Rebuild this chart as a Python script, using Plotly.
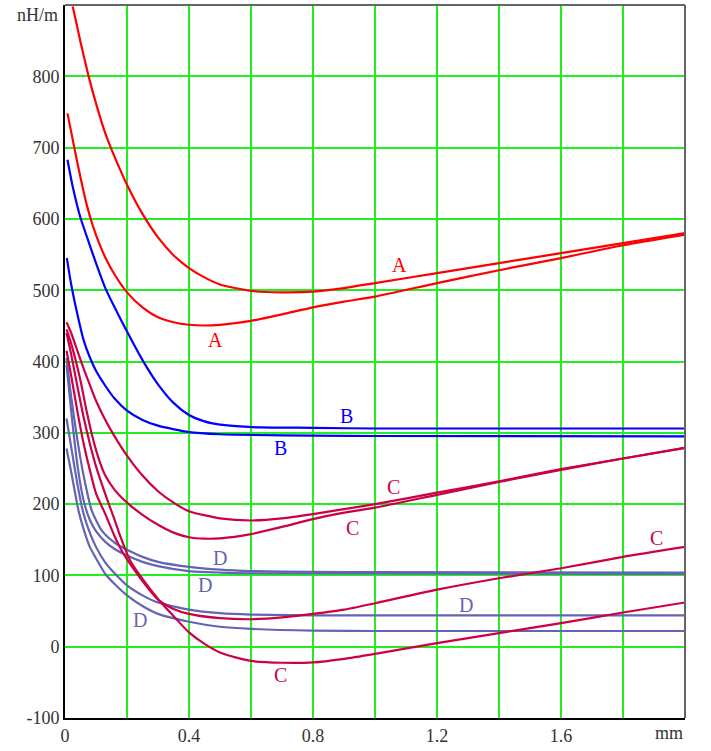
import plotly.graph_objects as go

# ---- data ----
A1_x = [0.025, 0.05, 0.075, 0.1, 0.13, 0.16, 0.2, 0.25, 0.3, 0.35, 0.4, 0.45, 0.5, 0.6, 0.7, 0.8, 0.9, 1.0, 1.2, 1.4, 1.6, 1.8, 2.0]
A1_y = [898, 848, 802, 762, 720, 687, 648, 607, 574, 549, 531, 518, 508, 499, 497, 498, 503, 510, 524, 538, 552, 566, 580]

A2_x = [0.008, 0.03, 0.05, 0.07, 0.09, 0.11, 0.13, 0.16, 0.2, 0.25, 0.3, 0.35, 0.4, 0.45, 0.5, 0.6, 0.7, 0.8, 0.9, 1.0, 1.2, 1.4, 1.6, 1.8, 2.0]
A2_y = [748, 700, 658, 620, 590, 566, 546, 522, 497, 476, 462, 455, 451.5, 450.5, 451.5, 457, 466, 476, 484, 491, 510, 528, 545, 563, 578]

B1_x = [0.008, 0.025, 0.049, 0.08, 0.1, 0.13, 0.16, 0.2, 0.25, 0.3, 0.35, 0.4, 0.45, 0.5, 0.565, 0.63, 0.8, 1.0, 2.0]
B1_y = [683, 645, 603, 563, 538, 503, 476, 442, 402, 368, 342, 325, 316, 311.5, 309, 307.5, 307, 306, 306]

B2_x = [0.006, 0.02, 0.038, 0.06, 0.08, 0.1, 0.13, 0.16, 0.2, 0.25, 0.3, 0.4, 0.5, 0.6, 0.8, 1.0, 2.0]
B2_y = [545, 508, 470, 430, 406, 387, 366, 348, 331, 318, 310, 301, 298, 297, 296, 295.5, 295]

C1_x = [0.005, 0.02, 0.04, 0.06, 0.082, 0.1, 0.13, 0.16, 0.2, 0.25, 0.3, 0.35, 0.4, 0.5, 0.6, 0.7, 0.8, 0.9, 1.0, 1.2, 1.4, 1.6, 1.8, 2.0]
C1_y = [455, 440, 415, 390, 365, 345, 318, 295, 268, 240, 218, 202, 190, 180, 177, 180, 186, 193, 200, 216, 232, 249, 264, 279]

C2_x = [0.005, 0.02, 0.049, 0.07, 0.09, 0.11, 0.13, 0.16, 0.2, 0.25, 0.3, 0.35, 0.4, 0.45, 0.5, 0.6, 0.7, 0.8, 0.9, 1.0, 1.2, 1.4, 1.6, 1.8, 2.0]
C2_y = [445, 425, 375, 330, 292, 262, 240, 220, 202, 185, 171, 160, 153.5, 151.5, 152, 158, 168, 179, 188, 195, 213, 231, 248, 264, 279]

C3_x = [0.005, 0.02, 0.04, 0.06, 0.08, 0.1, 0.13, 0.16, 0.18, 0.21, 0.25, 0.3, 0.35, 0.4, 0.5, 0.6, 0.7, 0.8, 0.9, 1.0, 1.2, 1.4, 1.6, 1.8, 2.0]
C3_y = [415, 380, 330, 285, 248, 215, 186, 155, 137, 116, 92, 66, 53, 46, 40, 38.5, 41, 46, 52, 61, 80, 96, 110, 126, 140]

C4_x = [0.005, 0.02, 0.04, 0.06, 0.08, 0.1, 0.13, 0.16, 0.18, 0.21, 0.25, 0.3, 0.35, 0.4, 0.45, 0.5, 0.55, 0.6, 0.7, 0.8, 0.9, 1.0, 1.2, 1.4, 1.6, 1.8, 2.0]
C4_y = [440, 410, 365, 322, 285, 253, 214, 178, 153, 121, 95, 67, 43, 20, 4, -8, -15, -20, -22.5, -22, -17, -10, 5, 19, 33, 48, 62]

D1_x = [0.005, 0.02, 0.04, 0.06, 0.087, 0.12, 0.16, 0.2, 0.25, 0.3, 0.4, 0.5, 0.6, 0.8, 1.0, 2.0]
D1_y = [405, 350, 290, 240, 190, 162, 146, 136, 126, 119, 112, 108, 106, 105, 104.5, 104]

D2_x = [0.005, 0.02, 0.04, 0.06, 0.08, 0.1, 0.13, 0.16, 0.2, 0.25, 0.3, 0.4, 0.5, 0.6, 2.0]
D2_y = [395, 330, 255, 205, 178, 162, 147, 137, 128, 119, 113, 106, 104, 103, 102]

D3_x = [0.005, 0.02, 0.04, 0.055, 0.07, 0.1, 0.13, 0.16, 0.2, 0.25, 0.3, 0.4, 0.5, 0.6, 0.8, 2.0]
D3_y = [320, 280, 228, 195, 172, 140, 118, 103, 86, 72, 62, 52, 47, 45, 44, 44]

D4_x = [0.005, 0.02, 0.044, 0.06, 0.08, 0.1, 0.13, 0.16, 0.2, 0.25, 0.3, 0.4, 0.5, 0.6, 0.8, 1.0, 2.0]
D4_y = [278, 245, 190, 165, 140, 124, 102, 88, 72, 57, 46, 35, 28, 25, 22.5, 22, 22]

curve_labels = ["A", "A", "B", "B", "C", "C", "C", "C", "D", "D", "D", "D"]
label_x = [1.078, 0.484, 0.909, 0.694, 1.059, 0.928, 1.909, 0.694, 0.5, 0.452, 0.242, 1.294]
label_y = [536, 430, 324, 278, 224, 166, 153, -40, 124, 87, 37, 59]

x_ticks = [0, 0.2, 0.4, 0.6, 0.8, 1.0, 1.2, 1.4, 1.6, 1.8]
x_ticktext = ["0", "", "0.4", "", "0.8", "", "1.2", "", "1.6", ""]
y_ticks = [-100, 0, 100, 200, 300, 400, 500, 600, 700, 800]
y_ticktext = ["-100", "0", "100", "200", "300", "400", "500", "600", "700", "800"]

# ---- styles ----
COL = {"A": "#FF0000", "B": "#0000FF", "C": "#CC0044", "D": "#6464B4"}
FONT = "Liberation Serif, Times New Roman, serif"

series = [
    ("D", D1_x, D1_y), ("D", D2_x, D2_y), ("D", D3_x, D3_y), ("D", D4_x, D4_y),
    ("C", C1_x, C1_y), ("C", C2_x, C2_y), ("C", C3_x, C3_y), ("C", C4_x, C4_y),
    ("B", B1_x, B1_y), ("B", B2_x, B2_y),
    ("A", A1_x, A1_y), ("A", A2_x, A2_y),
]

fig = go.Figure()
for key, xs, ys in series:
    fig.add_trace(go.Scatter(x=xs, y=ys, mode="lines",
                             line=dict(color=COL[key], width=2.2, shape="spline", smoothing=0.6),
                             hoverinfo="skip", showlegend=False))

for t, lx, ly in zip(curve_labels, label_x, label_y):
    fig.add_annotation(x=lx, y=ly, text=t, showarrow=False,
                       font=dict(family=FONT, size=20, color=COL[t]))

fig.add_annotation(xref="paper", yref="paper", x=0, y=1, xanchor="right", yanchor="middle",
                   xshift=-5, yshift=-10, text="nH/m", showarrow=False,
                   font=dict(family=FONT, size=18, color="#333333"))
fig.add_annotation(xref="paper", yref="paper", x=1, y=0, xanchor="right", yanchor="top",
                   xshift=0, yshift=-3, text="mm", showarrow=False,
                   font=dict(family=FONT, size=18, color="#333333"))

# top/right frame in gray
fig.add_shape(type="line", xref="paper", yref="paper", x0=0, x1=1, y0=1, y1=1,
              line=dict(color="#666666", width=2), layer="above")
fig.add_shape(type="line", xref="paper", yref="paper", x0=1, x1=1, y0=0, y1=1,
              line=dict(color="#666666", width=2), layer="above")

fig.update_layout(
    width=711, height=751,
    margin=dict(l=65, r=26, t=5, b=21),
    paper_bgcolor="white", plot_bgcolor="white",
    showlegend=False, hovermode=False,
    font=dict(family=FONT, size=18, color="#333333"),
)
fig.update_xaxes(range=[0, 2.0], tickmode="array", tickvals=x_ticks, ticktext=x_ticktext,
                 showgrid=True, gridcolor="#22EE22", gridwidth=1.5, zeroline=False,
                 showline=True, linecolor="black", linewidth=2, ticks="",
                 tickfont=dict(family=FONT, size=18, color="#333333"))
fig.update_yaxes(range=[-100, 900], tickmode="array", tickvals=y_ticks, ticktext=y_ticktext,
                 showgrid=True, gridcolor="#22EE22", gridwidth=1.5, zeroline=False,
                 showline=True, linecolor="black", linewidth=2, ticks="",
                 tickfont=dict(family=FONT, size=18, color="#333333"))

fig.write_html("out.html")
